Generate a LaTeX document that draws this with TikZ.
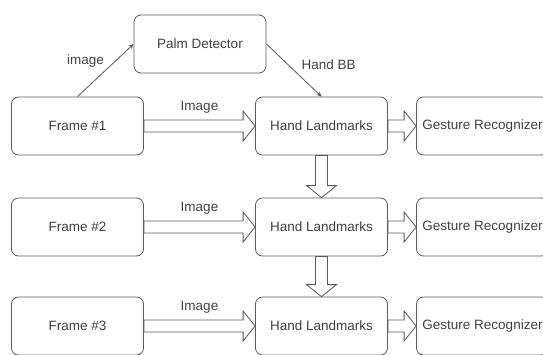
\documentclass[tikz,border=0pt]{standalone}
\usepackage{fontspec}
\setmainfont{Liberation Sans}
\usepackage{tikz}
\usetikzlibrary{positioning}
\usetikzlibrary{calc}
\usetikzlibrary{arrows.meta}
\definecolor{linegray}{HTML}{5A5A5A}
\definecolor{textgray}{HTML}{404040}

\begin{document}
\begin{tikzpicture}[
    x=1pt, y=-1pt,
    font=\fontsize{13.5}{16}\selectfont,
    every node/.style={text=textgray},
    box/.style={draw=linegray, line width=0.8pt, rounded corners=7pt,
      minimum width=132pt, minimum height=58pt, inner sep=2pt},
    thin arrow/.style={draw=linegray, line width=0.8pt, -{Stealth[length=5pt,width=4.5pt]}},
    fat arrow/.style={draw=linegray, line width=0.8pt, to path={
      let \p1=($(\tikztotarget)-(\tikztostart)$), \n1={atan2(\y1,\x1)}, \n2={veclen(\x1,\y1)-12pt} in
      (\tikztostart) ++(\n1-90:6pt) -- ++(\n1:\n2) -- ++(\n1-90:9pt) -- (\tikztotarget)
      -- ($(\tikztotarget)+(\n1+180:12pt)+(\n1+90:15pt)$) -- ++(\n1-90:9pt)
      -- ++(\n1+180:\n2) -- cycle}}
  ]
\useasboundingbox (0,0) rectangle (543,354);

\node[box] (pd) at (200,44) {Palm Detector};

\node[box] (f1) at (77.5,126) {Frame \#1};
\node[box] (h1) at (321.5,126) {Hand Landmarks};
\node[box] (g1) at (482.5,126) {Gesture Recognizer};

\node[box] (f2) at (77.5,227) {Frame \#2};
\node[box] (h2) at (321.5,227) {Hand Landmarks};
\node[box] (g2) at (482.5,227) {Gesture Recognizer};

\node[box] (f3) at (77.5,326) {Frame \#3};
\node[box] (h3) at (321.5,326) {Hand Landmarks};
\node[box] (g3) at (482.5,326) {Gesture Recognizer};

\draw[thin arrow] (f1.north) -- node[above left=-1pt and -2pt] (lbimg) {image} (pd.west);
\draw[thin arrow] (pd.east) -- node[above right=-3pt and 4pt] (lbbb) {Hand BB} (h1.north);

\draw[fat arrow] (f1.east) to (h1.west);
\path (f1.east) -- node[above=9pt] (lb1) {Image} (h1.west);
\draw[fat arrow] (h1.east) to (g1.west);
\draw[fat arrow] (h1.south) to (h2.north);

\draw[fat arrow] (f2.east) to (h2.west);
\path (f2.east) -- node[above=9pt] (lb2) {Image} (h2.west);
\draw[fat arrow] (h2.east) to (g2.west);
\draw[fat arrow] (h2.south) to (h3.north);

\draw[fat arrow] (f3.east) to (h3.west);
\path (f3.east) -- node[above=9pt] (lb3) {Image} (h3.west);
\draw[fat arrow] (h3.east) to (g3.west);
\end{tikzpicture}
\end{document}
